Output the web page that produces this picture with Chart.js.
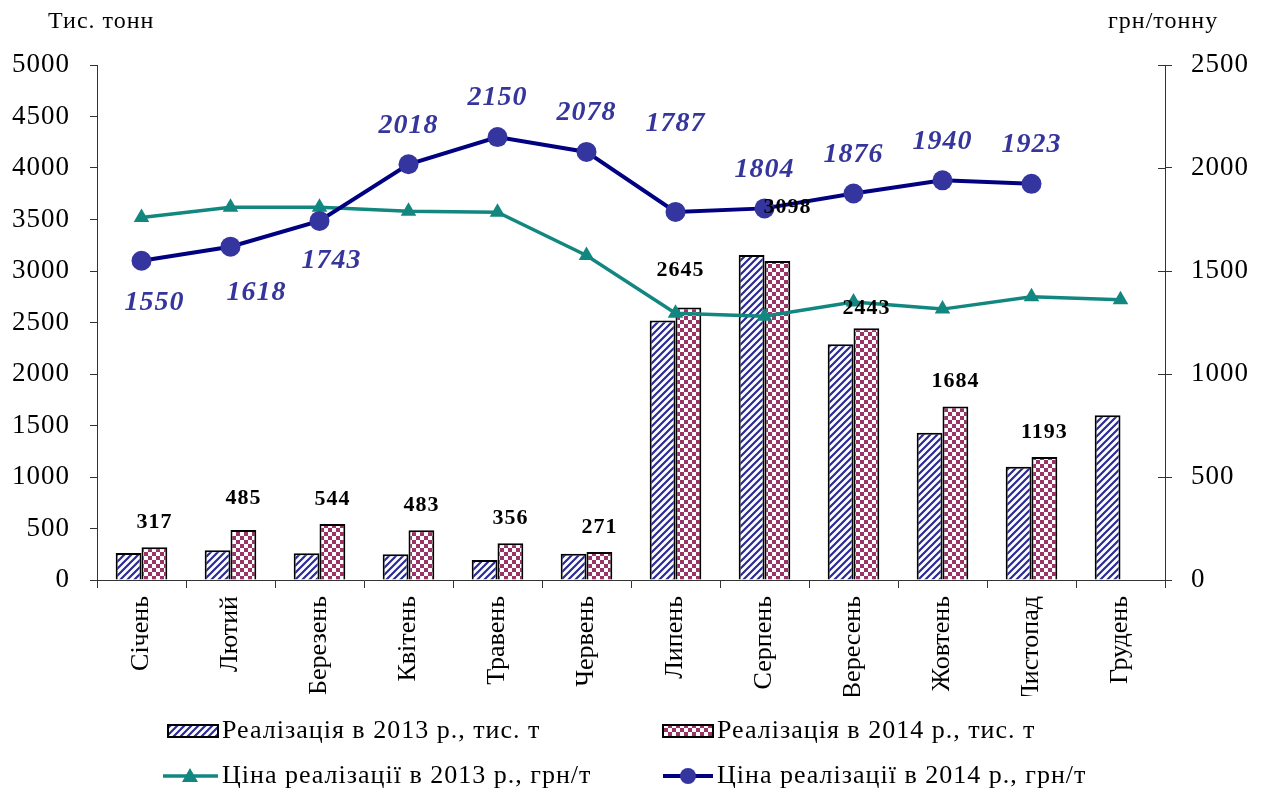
<!DOCTYPE html>
<html>
<head>
<meta charset="utf-8">
<script src="https://cdn.jsdelivr.net/npm/chart.js@4.4.1/dist/chart.umd.min.js"></script>
<style>
  body { margin: 0; background: #fff; }
  #wrap { width: 1269px; height: 796px; }
</style>
</head>
<body>
<div id="wrap"><canvas id="chart" width="1269" height="796"></canvas></div>
<script>
// months on the x axis
const months = ['Січень', 'Лютий', 'Березень', 'Квітень', 'Травень', 'Червень',
  'Липень', 'Серпень', 'Вересень', 'Жовтень', 'Листопад', 'Грудень'];
// sales, thousand tonnes
const sales2013 = [262, 290, 260, 250, 195, 255, 2520, 3155, 2290, 1430, 1100, 1600];
const sales2014 = [317, 485, 544, 483, 356, 271, 2645, 3098, 2443, 1684, 1193, null];
// price, UAH per tonne
const price2013 = [1760, 1810, 1810, 1790, 1785, 1575, 1295, 1280, 1350, 1315, 1375, 1360];
const price2014 = [1550, 1618, 1743, 2018, 2150, 2078, 1787, 1804, 1876, 1940, 1923, null];

const seriesNames = ['Реалізація в 2013 р., тис. т', 'Реалізація в 2014 р., тис. т',
  'Ціна реалізації в 2013 р., грн/т', 'Ціна реалізації в 2014 р., грн/т'];

const SERIF = '"Liberation Serif", "Times New Roman", serif';
const canvas = document.getElementById('chart');
const ctx = canvas.getContext('2d');

//blue diagonal stripes
function hatchPattern() {
  const s = 7;
  const c = document.createElement('canvas');
  c.width = s; c.height = s;
  const g = c.getContext('2d');
  g.fillStyle = '#fff';
  g.fillRect(0, 0, s, s);
  g.strokeStyle = '#2a2a98';
  g.lineWidth = 2.2;
  g.beginPath();
  g.moveTo(-1, s + 1); g.lineTo(s + 1, -1);
  g.moveTo(-s / 2 - 1, s / 2 + 1); g.lineTo(s / 2 + 1, -s / 2 - 1);
  g.moveTo(s / 2 - 1, s * 1.5 + 1); g.lineTo(s * 1.5 + 1, s / 2 - 1);
  g.stroke();
  return ctx.createPattern(c, 'repeat');
}
//maroon checkerboard
function checkerPattern() {
  const c = document.createElement('canvas');
  c.width = 8; c.height = 8;
  const g = c.getContext('2d');
  g.fillStyle = '#fff';
  g.fillRect(0, 0, 8, 8);
  g.fillStyle = '#9c3366';
  g.fillRect(0, 0, 4, 4);
  g.fillRect(4, 4, 4, 4);
  return ctx.createPattern(c, 'repeat');
}
const hatch = hatchPattern();
const checker = checkerPattern();

const TEAL = '#12877f';
const NAVY = '#000080';
const DOT = '#3535a0';

// label offsets (px) for a few crowded values
const barLabelShift = { 1: 32, 6: 37, 7: 54, 8: 20 };
const barLabelDx = { 6: -8, 7: 10 };
const priceLabelShift = { 0: -42, 1: -46, 2: -40, 6: 88 };
const priceLabelDx = { 0: 13, 1: 26, 2: 12 };

const labelsPlugin = {
  id: 'labelsPlugin',
  beforeDraw(chart) {
    // the source renders text a little wider (y ticks, labels)
    chart.ctx.letterSpacing = '1px';
  },
  afterDatasetsDraw(chart) {
    const c = chart.ctx;
    c.save();
    c.textAlign = 'center';
    c.textBaseline = 'middle';
    // bar values of 2014
    c.font = 'bold 22px ' + SERIF;
    c.fillStyle = '#000';
    chart.getDatasetMeta(1).data.forEach((bar, i) => {
      if (sales2014[i] == null) return;
      const up = barLabelShift[i] !== undefined ? barLabelShift[i] : 25;
      c.fillText(String(sales2014[i]), bar.x + (barLabelDx[i] || 0), bar.y - up);
    });
    // price 2014 values
    c.font = 'italic bold 28px ' + SERIF;
    c.fillStyle = '#35359c';
    chart.getDatasetMeta(3).data.forEach((pt, i) => {
      if (price2014[i] == null) return;
      const up = priceLabelShift[i] !== undefined ? priceLabelShift[i] : 39;
      c.fillText(String(price2014[i]), pt.x + (priceLabelDx[i] || 0), pt.y - up);
    });
    c.restore();
    // month labels (ticks.z: 1) are drawn next, without extra spacing
    c.letterSpacing = '0px';
  },
  afterDraw(chart) {
    const c = chart.ctx;
    const area = chart.chartArea;
    c.save();
    c.letterSpacing = '1px';
    // inner half of the right axis ticks
    const y1 = chart.scales.y1;
    c.strokeStyle = '#333';
    c.lineWidth = 1;
    y1.ticks.forEach(t => {
      const yy = Math.round(y1.getPixelForValue(t.value)) + 0.5;
      c.beginPath();
      c.moveTo(area.right - 7, yy);
      c.lineTo(area.right, yy);
      c.stroke();
    });
    // axis titles
    c.fillStyle = '#000';
    c.font = '24px ' + SERIF;
    c.textBaseline = 'alphabetic';
    c.textAlign = 'left';
    c.fillText('Тис. тонн', 48, 28);
    c.fillText('грн/тонну', 1108, 28);

    // legend
    c.font = '26px ' + SERIF;
    c.textBaseline = 'middle';
    const r1 = 731, r2 = 776;
    const cols = [168, 663];
    c.lineWidth = 2;
    c.strokeStyle = '#000';
    c.fillStyle = hatch;
    c.fillRect(cols[0], r1 - 6, 50, 12);
    c.strokeRect(cols[0], r1 - 6, 50, 12);
    c.fillStyle = checker;
    c.fillRect(cols[1], r1 - 6, 50, 12);
    c.strokeRect(cols[1], r1 - 6, 50, 12);

    c.strokeStyle = TEAL;
    c.lineWidth = 3.5;
    c.beginPath();
    c.moveTo(cols[0] - 5, r2); c.lineTo(cols[0] + 50, r2);
    c.stroke();
    c.fillStyle = TEAL;
    c.beginPath();
    c.moveTo(cols[0] + 22, r2 - 8);
    c.lineTo(cols[0] + 30, r2 + 6);
    c.lineTo(cols[0] + 14, r2 + 6);
    c.closePath();
    c.fill();

    c.strokeStyle = NAVY;
    c.lineWidth = 4;
    c.beginPath();
    c.moveTo(cols[1], r2); c.lineTo(cols[1] + 50, r2);
    c.stroke();
    c.fillStyle = DOT;
    c.beginPath();
    c.arc(cols[1] + 25, r2, 8, 0, Math.PI * 2);
    c.fill();

    c.fillStyle = '#000';
    c.fillText(seriesNames[0], cols[0] + 54, r1);
    c.fillText(seriesNames[1], cols[1] + 54, r1);
    c.fillText(seriesNames[2], cols[0] + 54, r2);
    c.fillText(seriesNames[3], cols[1] + 54, r2);
    c.restore();
  }
};

const tickFont = { family: SERIF, size: 26 };
const plainNum = (v) => String(v);

new Chart(canvas, {
  type: 'bar',
  plugins: [labelsPlugin],
  data: {
    labels: months,
    datasets: [
      {
        type: 'bar', label: seriesNames[0], data: sales2013, yAxisID: 'y',
        backgroundColor: hatch, borderColor: '#000', borderWidth: 2,
        categoryPercentage: 0.58, barPercentage: 1, order: 2,
      },
      {
        type: 'bar', label: seriesNames[1], data: sales2014, yAxisID: 'y',
        backgroundColor: checker, borderColor: '#000', borderWidth: 2,
        categoryPercentage: 0.58, barPercentage: 1, order: 2,
      },
      {
        type: 'line', label: seriesNames[2], data: price2013, yAxisID: 'y1',
        borderColor: TEAL, borderWidth: 3.5, backgroundColor: TEAL,
        pointStyle: 'triangle', pointRadius: 9, pointBorderWidth: 0,
        pointBackgroundColor: TEAL, tension: 0, order: 1,
      },
      {
        type: 'line', label: seriesNames[3], data: price2014, yAxisID: 'y1',
        borderColor: NAVY, borderWidth: 4, backgroundColor: DOT,
        pointStyle: 'circle', pointRadius: 10, pointBorderWidth: 0,
        pointBackgroundColor: DOT, tension: 0, order: 0,
      },
    ],
  },
  options: {
    responsive: false,
    animation: false,
    layout: { padding: { top: 65, bottom: 100, left: 0, right: 0 } },
    plugins: {
      legend: { display: false },
      tooltip: { enabled: false },
    },
    scales: {
      x: {
        offset: true,
        afterFit: (s) => { s.height = 116; },
        grid: { offset: true, drawOnChartArea: false, tickLength: 8, color: '#333' },
        border: { color: '#333', width: 1 },
        ticks: { z: 1, font: tickFont, color: '#000', minRotation: 90, maxRotation: 90, padding: 8 },
      },
      y: {
        position: 'left',
        min: 0, max: 5000,
        afterFit: (s) => { s.width = 97; },
        grid: { drawOnChartArea: false, tickLength: 7, color: '#333' },
        border: { color: '#333', width: 1 },
        ticks: { stepSize: 500, font: { family: SERIF, size: 27 }, color: '#000', padding: 20, callback: plainNum },
      },
      y1: {
        position: 'right',
        min: 0, max: 2500,
        afterFit: (s) => { s.width = 104; },
        grid: { drawOnChartArea: false, tickLength: 7, color: '#333' },
        border: { color: '#333', width: 1 },
        ticks: { stepSize: 500, font: { family: SERIF, size: 27 }, color: '#000', padding: 19, callback: plainNum },
      },
    },
  },
});
</script>
</body>
</html>
